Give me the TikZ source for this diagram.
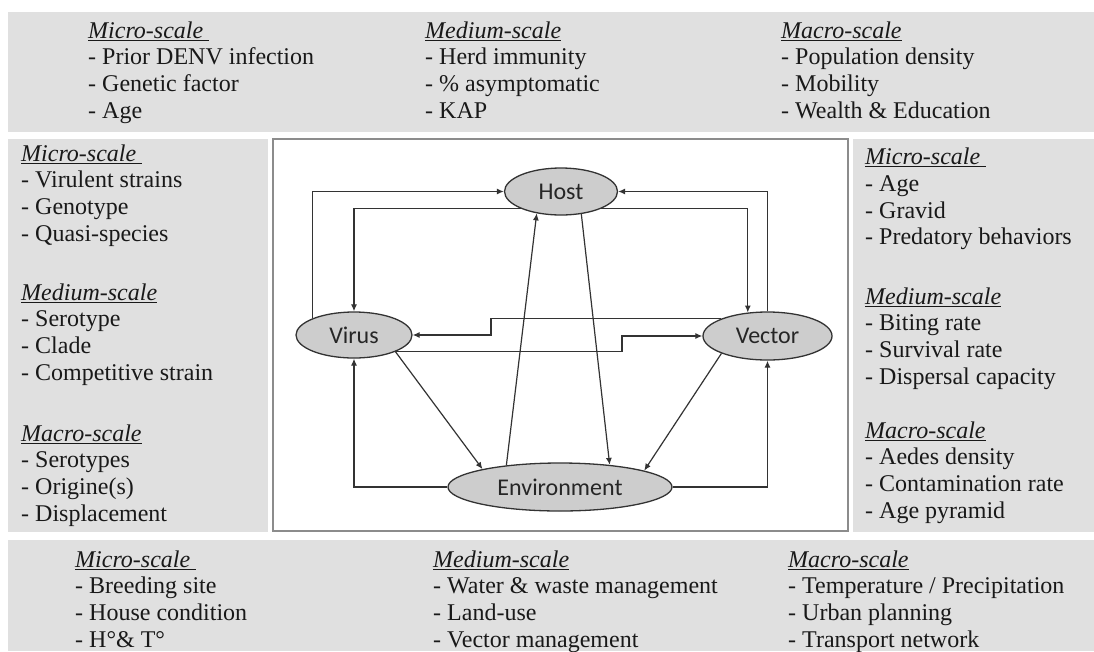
\documentclass[tikz,border=0pt]{standalone}
\usepackage{fontspec}
\setmainfont{Liberation Serif}
\newfontfamily\calib{Carlito}
\usetikzlibrary{arrows.meta,shapes.geometric}
\definecolor{panelgray}{HTML}{E0E0E0}
\definecolor{blobgray}{HTML}{CDCDCD}
\definecolor{linegray}{HTML}{333333}
\definecolor{framegray}{HTML}{8C8C8C}
\newcommand{\hd}[1]{\underline{\textit{#1}}}

\begin{document}
\begin{tikzpicture}
  [x=1pt,y=-1pt,
   txt/.style={anchor=north west,inner sep=0pt,align=left,text=black!90,
     font=\fontsize{24}{26.6}\selectfont},
   blob/.style={ellipse,draw=linegray,line width=1.3pt,fill=blobgray,
     inner sep=0pt,text=black!85,font=\calib\fontsize{24}{28}\selectfont},
   link/.style={draw=linegray,line width=1.2pt,-{Latex[length=7pt,width=6pt]}}]
  \useasboundingbox (0,0) rectangle (1094,651);

  % panels
  \fill[panelgray] (8,12) rectangle (1094,132);
  \fill[panelgray] (8,139) rectangle (268,532);
  \fill[panelgray] (853,139) rectangle (1094,532);
  \fill[panelgray] (8,540) rectangle (1094,651);
  \draw[framegray,line width=1.5pt,fill=white] (273,139) rectangle (848,531);

  % host
  \node[txt] (hmicro) at (88,19.5) {\strut\hd{Micro-scale\ }\\- Prior DENV infection\\- Genetic factor\\- Age};
  \node[txt] (hmedium) at (425,19.5) {\strut\hd{Medium-scale}\\- Herd immunity\\- \% asymptomatic\\- KAP};
  \node[txt] (hmacro) at (781,19.5) {\strut\hd{Macro-scale}\\- Population density\\- Mobility\\- Wealth \& Education};

  % virus
  \node[txt] (vmicro) at (21,142.5) {\strut\hd{Micro-scale\ }\\- Virulent strains\\- Genotype\\- Quasi-species};
  \node[txt] (vmedium) at (21,281.5) {\strut\hd{Medium-scale}\\- Serotype\\- Clade\\- Competitive strain};
  \node[txt] (vmacro) at (21,422.5) {\strut\hd{Macro-scale}\\- Serotypes\\- Origine(s)\\- Displacement};

  % vector
  \node[txt] (cmicro) at (865,146) {\strut\hd{Micro-scale\ }\\- Age\\- Gravid\\- Predatory behaviors};
  \node[txt] (cmedium) at (865,285.5) {\strut\hd{Medium-scale}\\- Biting rate\\- Survival rate\\- Dispersal capacity};
  \node[txt] (cmacro) at (865,419.5) {\strut\hd{Macro-scale}\\- Aedes density\\- Contamination rate\\- Age pyramid};

  % environment
  \node[txt] (emicro) at (75,548.5) {\strut\hd{Micro-scale\ }\\- Breeding site\\- House condition\\- H°\& T°};
  \node[txt] (emedium) at (433,548.5) {\strut\hd{Medium-scale}\\- Water \& waste management\\- Land-use\\- Vector management};
  \node[txt] (emacro) at (788,548.5) {\strut\hd{Macro-scale}\\- Temperature / Precipitation\\- Urban planning\\- Transport network};

  \node[blob,minimum width=113,minimum height=47] (host) at (561,191.5) {Host};
  \node[blob,minimum width=116,minimum height=46] (virus) at (354,335) {Virus};
  \node[blob,minimum width=129,minimum height=48] (vector) at (767.5,336) {Vector};
  \node[blob,minimum width=224,minimum height=48] (env) at (560,487) {Environment};

  \coordinate (sv1) at (491,327);
  \coordinate (sv2) at (622,344);

  \draw[link] (virus.north west) |- (host.west);
  \draw[link] (host.south west) -| (virus.north);
  \draw[link] (vector.north) |- (host.east);
  \draw[link] (host.south east) -| (vector.130);
  \draw[link] (vector.north west) -| (sv1) |- (virus.east);
  \draw[link] (virus.south east) -| (sv2) |- (vector.west);
  \draw[link] (virus.south east) -- (env.167);
  \draw[link] (env.158) -- (host.-138);
  \draw[link] (host.-48) -- (env.24);
  \draw[link] (vector.south west) -- (env.11);
  \draw[link] (env.west) -| (virus.south);
  \draw[link] (env.east) -| (vector.south);

\end{tikzpicture}
\end{document}
